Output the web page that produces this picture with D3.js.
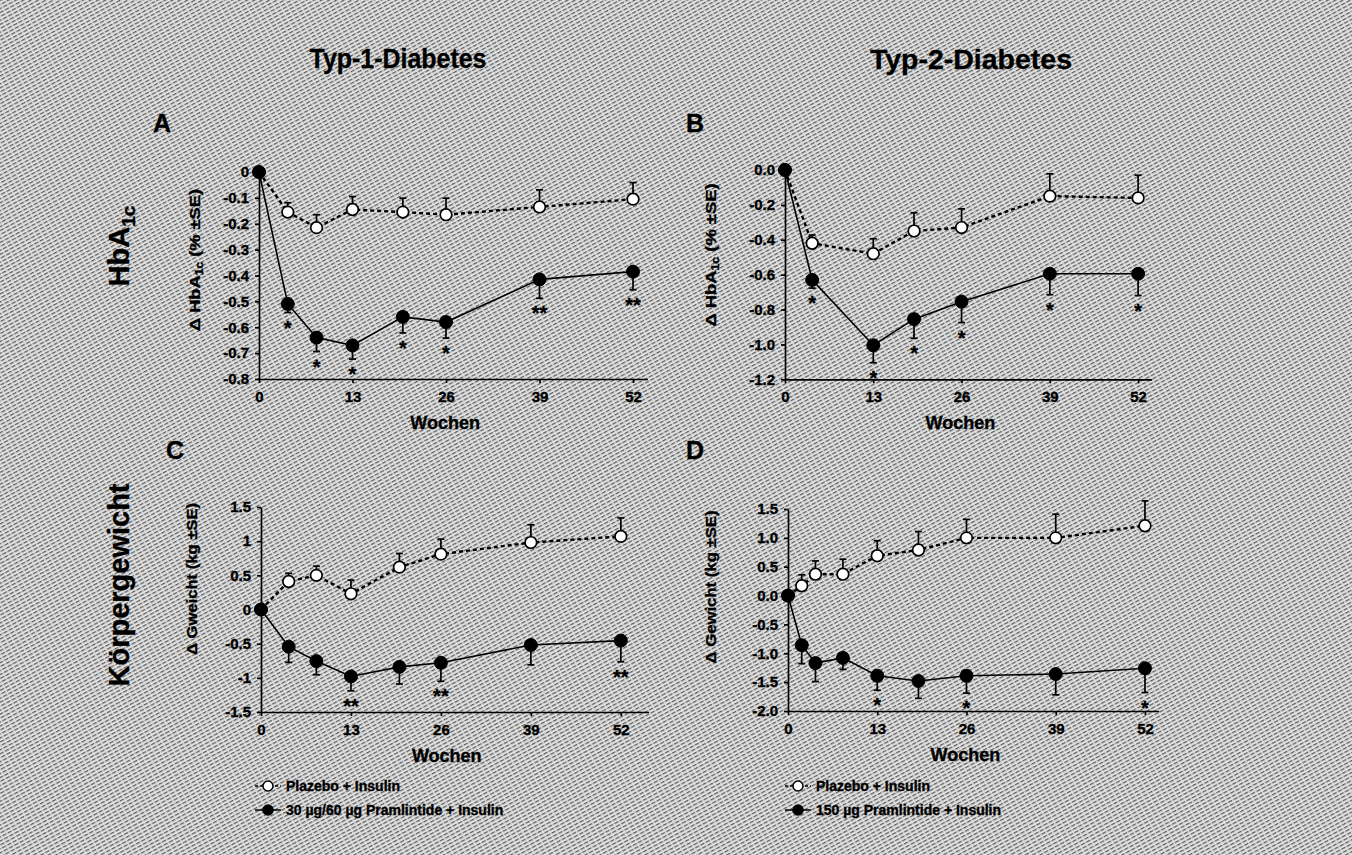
<!DOCTYPE html>
<html>
<head>
<meta charset="utf-8">
<script src="https://cdn.jsdelivr.net/npm/d3@7"></script>
<style>
  body { margin: 0; background: #ffffff; }
  svg { display: block; font-family: "Liberation Sans", Arial, sans-serif; font-weight: bold; }
  svg text { stroke: #000; stroke-width: 0.35px; fill: #000; }
</style>
</head>
<body>
<div id="grafik"></div>
<script>
// Wochen (x-Werte)
const wochenT1 = [0, 4, 8, 13, 20, 26, 39, 52];
const wochenT2Hba = [0, 4, 13, 19, 26, 39, 52];
const wochenT2Gew = [0, 2, 4, 8, 13, 19, 26, 39, 52];
const xTicks = [0, 13, 26, 39, 52];

// A: HbA1c Typ 1
const hbaT1Plazebo = [0, -0.155, -0.215, -0.145, -0.155, -0.165, -0.135, -0.105];
const hbaT1PlazeboSE = [0, 0.036, 0.05, 0.05, 0.054, 0.064, 0.066, 0.064];
const hbaT1Pram = [0, -0.51, -0.64, -0.67, -0.56, -0.58, -0.415, -0.385];
const hbaT1PramSE = [0, 0.033, 0.054, 0.053, 0.062, 0.062, 0.073, 0.07];
const hbaT1Sterne = ["", "*", "*", "*", "*", "*", "**", "**"];

// B: HbA1c Typ 2
const hbaT2Plazebo = [0, -0.42, -0.48, -0.35, -0.33, -0.15, -0.16];
const hbaT2PlazeboSE = [0, 0.047, 0.086, 0.105, 0.107, 0.128, 0.13];
const hbaT2Pram = [0, -0.63, -1.005, -0.855, -0.755, -0.595, -0.595];
const hbaT2PramSE = [0, 0.047, 0.1, 0.11, 0.12, 0.12, 0.125];
const hbaT2Sterne = ["", "*", "*", "*", "*", "*", "*"];

// C: Gewicht Typ 1
const gewT1Plazebo = [0, 0.41, 0.5, 0.23, 0.62, 0.81, 0.98, 1.07];
const gewT1PlazeboSE = [0, 0.12, 0.135, 0.2, 0.2, 0.22, 0.26, 0.27];
const gewT1Pram = [0, -0.545, -0.755, -0.98, -0.84, -0.78, -0.52, -0.455];
const gewT1PramSE = [0, 0.23, 0.2, 0.21, 0.25, 0.27, 0.29, 0.31];
const gewT1Sterne = ["", "", "", "**", "", "**", "", "**"];

// D: Gewicht Typ 2
const gewT2Plazebo = [0, 0.17, 0.37, 0.37, 0.69, 0.79, 1.0, 1.0, 1.21];
const gewT2PlazeboSE = [0, 0.19, 0.23, 0.26, 0.26, 0.32, 0.32, 0.41, 0.43];
const gewT2Pram = [0, -0.86, -1.17, -1.08, -1.39, -1.48, -1.39, -1.36, -1.26];
const gewT2PramSE = [0, 0.32, 0.32, 0.2, 0.25, 0.3, 0.3, 0.36, 0.42];
const gewT2Sterne = ["", "", "", "", "*", "", "*", "", "*"];

// Achsenbeschriftungen
const yTicksA = [0, -0.1, -0.2, -0.3, -0.4, -0.5, -0.6, -0.7, -0.8];
const yLabelsA = ["0", "-0.1", "-0.2", "-0.3", "-0.4", "-0.5", "-0.6", "-0.7", "-0.8"];
const yTicksB = [0, -0.2, -0.4, -0.6, -0.8, -1.0, -1.2];
const yLabelsB = ["0.0", "-0.2", "-0.4", "-0.6", "-0.8", "-1.0", "-1.2"];
const yTicksC = [1.5, 1, 0.5, 0, -0.5, -1, -1.5];
const yLabelsC = ["1.5", "1", "0.5", "0", "-0.5", "-1", "-1.5"];
const yTicksD = [1.5, 1, 0.5, 0, -0.5, -1, -1.5, -2];
const yLabelsD = ["1.5", "1.0", "0.5", "0.0", "-0.5", "-1.0", "-1.5", "-2.0"];

const legendeT1 = ["Plazebo + Insulin", "30 µg/60 µg Pramlintide + Insulin"];
const legendeT2 = ["Plazebo + Insulin", "150 µg Pramlintide + Insulin"];

const width = 1352;
const height = 855;

const svg = d3.select("#grafik").append("svg")
    .attr("width", width)
    .attr("height", height)
    .attr("viewBox", [0, 0, width, height]);

// Raster-Hintergrund (wie gedruckt)
const defs = svg.append("defs");
const pat = defs.append("pattern")
    .attr("id", "raster")
    .attr("patternUnits", "userSpaceOnUse")
    .attr("width", 6)
    .attr("height", 3.5)
    .attr("patternTransform", "rotate(-28)");
pat.append("rect").attr("width", 6).attr("height", 3.5).attr("fill", "#e0e0e0");
pat.append("rect").attr("y", 0).attr("width", 4).attr("height", 1.25).attr("fill", "#5c5c5c");
pat.append("rect").attr("x", 4.6).attr("y", 0).attr("width", 1).attr("height", 1.25).attr("fill", "#959595");

svg.append("rect")
    .attr("width", width)
    .attr("height", height)
    .attr("fill", "url(#raster)");

// Ueberschriften
svg.append("text")
    .attr("x", 398).attr("y", 68)
    .attr("text-anchor", "middle")
    .attr("font-size", 28)
    .attr("textLength", 177)
    .attr("lengthAdjust", "spacingAndGlyphs")
    .text("Typ-1-Diabetes");
svg.append("text")
    .attr("x", 971).attr("y", 69)
    .attr("text-anchor", "middle")
    .attr("font-size", 28)
    .attr("textLength", 202)
    .attr("lengthAdjust", "spacingAndGlyphs")
    .text("Typ-2-Diabetes");

// Zeilenbeschriftungen
const rowHba = svg.append("text")
    .attr("transform", "translate(119,246) rotate(-90)")
    .attr("text-anchor", "middle")
    .attr("dy", "0.36em")
    .attr("font-size", 29);
rowHba.append("tspan").text("HbA");
rowHba.append("tspan").attr("font-size", 19).attr("dy", 6).text("1c");

svg.append("text")
    .attr("transform", "translate(119,585) rotate(-90)")
    .attr("text-anchor", "middle")
    .attr("dy", "0.36em")
    .attr("font-size", 29)
    .text("Körpergewicht");

// Panelbuchstaben
[["A", 153, 132], ["B", 686, 132], ["C", 166, 459], ["D", 686, 459]].forEach(([t, x, y]) => {
    svg.append("text").attr("x", x).attr("y", y).attr("font-size", 25).text(t);
});

function zeichnePanel(p) {
    const x = d3.scaleLinear().domain([0, p.xMax]).range([p.left, p.right]);
    const y = d3.scaleLinear().domain(p.yDomain).range([p.bottom, p.top]);
    const g = svg.append("g");

    // x-Achse
    g.append("g")
        .attr("transform", `translate(0,${p.bottom})`)
        .call(d3.axisBottom(x).tickValues(xTicks).tickSize(4).tickSizeOuter(0).tickPadding(8).tickFormat(d3.format("d")))
        .call(a => a.selectAll("text").attr("font-size", 15).attr("font-weight", "bold").attr("fill", "#000"))
        .call(a => a.selectAll("line,path").attr("stroke", "#000").attr("stroke-width", 1.7));

    // y-Achse
    g.append("g")
        .attr("transform", `translate(${p.left},0)`)
        .call(d3.axisLeft(y).tickValues(p.yTicks).tickSize(4).tickSizeOuter(0).tickPadding(6)
            .tickFormat((d, i) => p.yLabels[i]))
        .call(a => a.selectAll("text").attr("font-size", 15).attr("font-weight", "bold").attr("fill", "#000"))
        .call(a => a.selectAll("line,path").attr("stroke", "#000").attr("stroke-width", 1.7));

    // Achsentitel
    g.append("text")
        .attr("x", (p.left + p.right) / 2 - 8)
        .attr("y", p.bottom + 50)
        .attr("text-anchor", "middle")
        .attr("font-size", 18)
        .text("Wochen");

    const yt = g.append("text")
        .attr("transform", `translate(${p.yTitleX},${p.yTitleY}) rotate(-90)`)
        .attr("text-anchor", "middle")
        .attr("dy", "0.36em")
        .attr("font-size", 15)
        .attr("textLength", p.yTitleLen)
        .attr("lengthAdjust", "spacingAndGlyphs");
    p.yTitle.forEach(s => {
        const ts = yt.append("tspan").text(s.t);
        if (s.sub) ts.attr("font-size", 10).attr("dy", 3);
        if (s.back) ts.attr("dy", -3);
    });

    const linie = d3.line().x(d => x(d[0])).y(d => y(d[1]));

    function reihe(werte, se, richtung, offen, sterne) {
        const pts = p.wochen.map((w, i) => [w, werte[i], se[i]]);
        g.append("path")
            .datum(pts)
            .attr("d", linie)
            .attr("fill", "none")
            .attr("stroke", "#000")
            .attr("stroke-width", offen ? 2.4 : 1.6)
            .attr("stroke-dasharray", offen ? "4,3" : null);

        // Fehlerbalken
        const fb = g.append("g").attr("stroke", "#000").attr("stroke-width", 1.7);
        pts.filter(d => d[2] > 0).forEach(d => {
            const y0 = y(d[1]);
            const y1 = y(d[1] + richtung * d[2]);
            fb.append("line").attr("x1", x(d[0])).attr("x2", x(d[0])).attr("y1", y0).attr("y2", y1);
            fb.append("line").attr("x1", x(d[0]) - 3.5).attr("x2", x(d[0]) + 3.5).attr("y1", y1).attr("y2", y1);
        });

        g.append("g")
            .selectAll("circle")
            .data(pts)
            .join("circle")
            .attr("cx", d => x(d[0]))
            .attr("cy", d => y(d[1]))
            .attr("r", offen ? 5.8 : 6.5)
            .attr("fill", offen ? "#fff" : "#000")
            .attr("stroke", "#000")
            .attr("stroke-width", offen ? 1.7 : 1);

        if (sterne) {
            g.append("g")
                .selectAll("text")
                .data(pts.map((d, i) => [d, sterne[i]]).filter(d => d[1]))
                .join("text")
                .attr("x", d => x(d[0][0]))
                .attr("y", d => y(d[0][1] - d[0][2]) + 22)
                .attr("text-anchor", "middle")
                .attr("font-size", 20)
                .text(d => d[1]);
        }
    }

    reihe(p.plazebo, p.plazeboSE, 1, true, null);
    reihe(p.pram, p.pramSE, -1, false, p.sterne);
}

zeichnePanel({
    left: 259, right: 647.4, top: 172, bottom: 379, xMax: 54, yDomain: [-0.8, 0],
    yTicks: yTicksA, yLabels: yLabelsA, wochen: wochenT1,
    plazebo: hbaT1Plazebo, plazeboSE: hbaT1PlazeboSE, pram: hbaT1Pram, pramSE: hbaT1PramSE, sterne: hbaT1Sterne,
    yTitle: [{t: "Δ HbA"}, {t: "1c", sub: true}, {t: " (% ±SE)", back: true}],
    yTitleX: 195, yTitleY: 260, yTitleLen: 142
});

zeichnePanel({
    left: 785, right: 1151.7, top: 170, bottom: 379.3, xMax: 54, yDomain: [-1.2, 0],
    yTicks: yTicksB, yLabels: yLabelsB, wochen: wochenT2Hba,
    plazebo: hbaT2Plazebo, plazeboSE: hbaT2PlazeboSE, pram: hbaT2Pram, pramSE: hbaT2PramSE, sterne: hbaT2Sterne,
    yTitle: [{t: "Δ HbA"}, {t: "1c", sub: true}, {t: " (% ±SE)", back: true}],
    yTitleX: 711, yTitleY: 255, yTitleLen: 143
});

zeichnePanel({
    left: 261, right: 648.5, top: 507, bottom: 712, xMax: 56, yDomain: [-1.5, 1.5],
    yTicks: yTicksC, yLabels: yLabelsC, wochen: wochenT1,
    plazebo: gewT1Plazebo, plazeboSE: gewT1PlazeboSE, pram: gewT1Pram, pramSE: gewT1PramSE, sterne: gewT1Sterne,
    yTitle: [{t: "Δ Gweicht (kg ±SE)"}],
    yTitleX: 192, yTitleY: 579, yTitleLen: 152
});

zeichnePanel({
    left: 788, right: 1158.7, top: 509, bottom: 711, xMax: 54, yDomain: [-2, 1.5],
    yTicks: yTicksD, yLabels: yLabelsD, wochen: wochenT2Gew,
    plazebo: gewT2Plazebo, plazeboSE: gewT2PlazeboSE, pram: gewT2Pram, pramSE: gewT2PramSE, sterne: gewT2Sterne,
    yTitle: [{t: "Δ Gewicht (kg ±SE)"}],
    yTitleX: 711, yTitleY: 587, yTitleLen: 153
});

// Legenden
function legende(x0, texte) {
    const g = svg.append("g");
    texte.forEach((t, i) => {
        const yy = 786 + i * 24;
        const offen = i === 0;
        g.append("line")
            .attr("x1", x0).attr("x2", x0 + 26)
            .attr("y1", yy).attr("y2", yy)
            .attr("stroke", "#000")
            .attr("stroke-width", offen ? 1.6 : 1.5)
            .attr("stroke-dasharray", offen ? "3,2" : null);
        g.append("circle")
            .attr("cx", x0 + 13).attr("cy", yy).attr("r", 5)
            .attr("fill", offen ? "#fff" : "#000")
            .attr("stroke", "#000").attr("stroke-width", 1.5);
        g.append("text")
            .attr("x", x0 + 31).attr("y", yy + 5)
            .attr("font-size", 14)
            .text(t);
    });
}
legende(255, legendeT1);
legende(785, legendeT2);
</script>
</body>
</html>
